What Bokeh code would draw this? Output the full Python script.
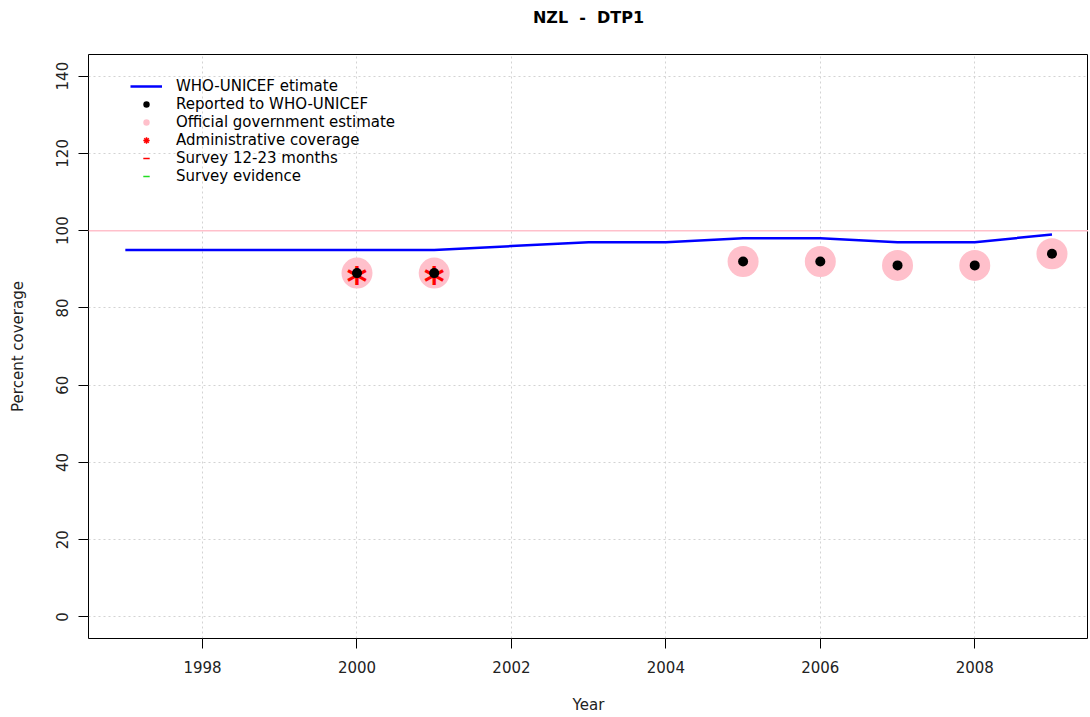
import math
from bokeh.plotting import figure
from bokeh.models import (ColumnDataSource, Range1d, FixedTicker, Legend,
                          LegendItem, Span, Title)
from bokeh.core.properties import value
from bokeh.embed import file_html
from bokeh.resources import INLINE

# ---------------- data ----------------
title_text = "NZL\u00a0 -\u00a0 DTP1"
years = [1997, 1998, 1999, 2000, 2001, 2002, 2003, 2004, 2005, 2006, 2007, 2008, 2009]
who_unicef_estimate = [95, 95, 95, 95, 95, 96, 97, 97, 98, 98, 97, 97, 99]

reported_years = [2000, 2001, 2005, 2006, 2007, 2008, 2009]
reported_values = [89, 89, 92, 92, 91, 91, 94]

official_years = [2000, 2001, 2005, 2006, 2007, 2008, 2009]
official_values = [89, 89, 92, 92, 91, 91, 94]

admin_years = [2000, 2001]
admin_values = [89, 89]

# no survey data for this country/vaccine
survey_years = []
survey_values = []
evidence_years = []
evidence_values = []

target_coverage = 100
x_ticks = [1998, 2000, 2002, 2004, 2006, 2008]
y_ticks = [0, 20, 40, 60, 80, 100, 120, 140]

FONT = "DejaVu Sans"
NAN = float("nan")


def or_missing(v):
    # an empty series still needs one (missing) row so its legend key is drawn
    return v if len(v) else [NAN]


# ---------------- figure ----------------
p = figure(width=1088, height=716, output_backend="svg", toolbar_location=None,
           x_range=Range1d(1996.523, 2009.473), y_range=Range1d(-5.6, 145.6),
           min_border_left=88, min_border_right=0, min_border_top=52,
           min_border_bottom=75, background_fill_color="white",
           border_fill_color="white")

p.title.text = title_text
p.title.align = "center"
p.title.text_font = FONT
p.title.text_font_size = "16px"
p.title.text_font_style = "bold"
p.title.text_color = "black"
p.title.standoff = 10

# blank spacer between the title and the frame (lifts the title up)
p.add_layout(Title(text="\u00a0", text_font=FONT, text_font_size="12px",
                   standoff=7), "above")

p.outline_line_color = "black"
p.outline_line_width = 1
p.outline_line_alpha = 1

# grid
p.xgrid.ticker = FixedTicker(ticks=x_ticks)
p.ygrid.ticker = FixedTicker(ticks=y_ticks)
for g in (p.xgrid, p.ygrid):
    g.grid_line_color = "#D3D3D3"
    g.grid_line_dash = "2 3"
    g.grid_line_width = 1

# axes
p.xaxis.ticker = FixedTicker(ticks=x_ticks)
p.yaxis.ticker = FixedTicker(ticks=y_ticks)
for ax in (p.xaxis, p.yaxis):
    ax.axis_line_color = None
    ax.major_tick_out = 10
    ax.major_tick_in = 0
    ax.minor_tick_out = 0
    ax.minor_tick_in = 0
    ax.major_tick_line_color = "black"
    ax.major_label_text_font = FONT
    ax.major_label_text_font_size = "15px"
    ax.major_label_text_color = "#222222"
    ax.axis_label_text_font = FONT
    ax.axis_label_text_font_size = "15px"
    ax.axis_label_text_font_style = "normal"
    ax.axis_label_text_color = "#222222"
p.xaxis.axis_label = "Year"
p.yaxis.axis_label = "Percent coverage"
p.xaxis.major_label_standoff = 12
p.xaxis.axis_label_standoff = 20
p.yaxis.major_label_orientation = "parallel"
p.yaxis.major_label_standoff = 10
p.yaxis.axis_label_standoff = 27

# target line
p.add_layout(Span(location=target_coverage, dimension="width",
                  line_color="pink", line_width=1.5))

# ---------------- glyphs ----------------
est_src = ColumnDataSource(dict(x=years, y=who_unicef_estimate))
rep_src = ColumnDataSource(dict(x=reported_years, y=reported_values))
off_src = ColumnDataSource(dict(x=official_years, y=official_values))
adm_src = ColumnDataSource(dict(x=admin_years, y=admin_values,
                                t=["*"] * len(admin_years)))
sur_src = ColumnDataSource(dict(x=or_missing(survey_years),
                                y=or_missing(survey_values)))
evi_src = ColumnDataSource(dict(x=or_missing(evidence_years),
                                y=or_missing(evidence_values)))

r_est = p.line("x", "y", source=est_src, line_color="blue", line_width=2.5)
r_off = p.scatter("x", "y", source=off_src, marker="circle", size=31,
                  fill_color="pink", line_color=None)
r_adm_txt = p.text("x", "y", text="t", source=adm_src, text_color="red",
                   text_font=value(FONT), text_font_size="40px",
                   text_font_style="bold",
                   text_align="center", text_baseline="middle", y_offset=9)
# asterisk marker for the legend key (tiny on the plot, hidden under the dot)
r_adm_key = p.scatter("x", "y", source=adm_src, marker="asterisk",
                      line_color="red", line_width=1.5, size=1)
r_rep = p.scatter("x", "y", source=rep_src, marker="circle", size=10,
                  fill_color="black", line_color=None)

r_sur = p.scatter("x", "y", source=sur_src, marker="dash", angle=math.pi / 2,
                  line_color="red", line_width=1.5, size=12)
r_evi = p.scatter("x", "y", source=evi_src, marker="dash",
                  line_color="#22DD22", line_width=1.5, size=4)

legend = Legend(items=[
    LegendItem(label="WHO-UNICEF etimate", renderers=[r_est]),
    LegendItem(label="Reported to WHO-UNICEF", renderers=[r_rep]),
    LegendItem(label="Official government estimate", renderers=[r_off]),
    LegendItem(label="Administrative coverage", renderers=[r_adm_key]),
    LegendItem(label="Survey 12-23 months", renderers=[r_sur]),
    LegendItem(label="Survey evidence", renderers=[r_evi]),
], location=(42, 453))
legend.border_line_color = None
legend.background_fill_alpha = 0
legend.padding = 0
legend.margin = 0
legend.spacing = 0
legend.glyph_width = 32
legend.glyph_height = 16
legend.label_height = 16
legend.label_standoff = 14
legend.label_text_font = FONT
legend.label_text_font_size = "15px"
legend.label_text_color = "black"
legend.label_text_baseline = "middle"
p.add_layout(legend)

open("out.html", "w").write(file_html(p, INLINE))
